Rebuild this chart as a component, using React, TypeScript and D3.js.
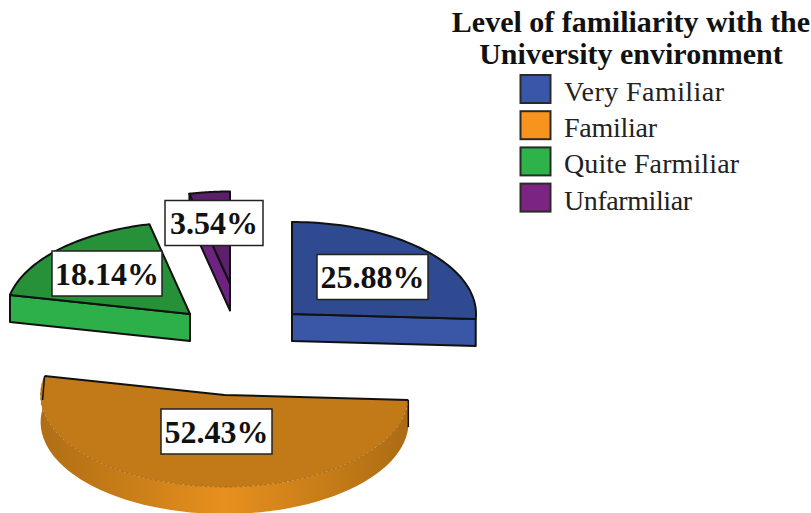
import React from "react";
import * as d3 from "d3";

const categories = ["Very Familiar", "Familiar", "Quite Farmiliar", "Unfarmiliar"];
const shares = [25.88, 52.43, 18.14, 3.54];
const titleLines = ["Level of familiarity with the", "University environment"];

const faceColors = ["#2f4a90", "#c27a18", "#27913a", "#5c1f6c"];
const wallColors = ["#3a56a6", "#e8901e", "#2db04a", "#6d2480"];
const swatchColors = ["#3a56a8", "#f7941d", "#2db34a", "#7b2481"];

// Where each exploded wedge keeps its apex, and where its label box is centred.
const apexX = [292, 224.6, 190, 230];
const apexY = [314, 395, 314, 283.5];
const labelX = [372.5, 216.5, 107, 214];
const labelY = [277, 431.5, 273.5, 223];
const labelW = [111, 111, 110, 98];
const labelH = 45;
const legendTextWidths = [160, 93, 175, 128];

const RX = 184;
const RY = 92;
const DEPTH = 27;

const pie = d3.pie<number>().sort(null).value((d) => d);
const arcs = pie(shares);

type P = [number, number];
const onRim = (i: number, a: number, drop = 0): P => [
  apexX[i] + RX * Math.sin(a),
  apexY[i] - RY * Math.cos(a) + drop,
];
const rimPoints = (i: number, a0: number, a1: number, drop = 0): P[] =>
  d3.range(0, 61).map((k) => onRim(i, a0 + ((a1 - a0) * k) / 60, drop));

const line = d3.line<P>();
const closed = (pts: P[]) => line(pts) + "Z";

function facePath(i: number) {
  const a = arcs[i];
  return closed([[apexX[i], apexY[i]], ...rimPoints(i, a.startAngle, a.endAngle)]);
}

// Radial cut wall of a wedge: the face edge at angle a, extruded downwards.
function cutWall(i: number, a: number) {
  const p = onRim(i, a);
  const c: P = [apexX[i], apexY[i]];
  return closed([c, p, [p[0], p[1] + DEPTH], [c[0], c[1] + DEPTH]]);
}

// Outer curved wall of the large wedge.
function rimWall(i: number) {
  const a = arcs[i];
  const top = rimPoints(i, a.startAngle, a.endAngle);
  const bottom = rimPoints(i, a.startAngle, a.endAngle, DEPTH).reverse();
  return closed([...top, ...bottom]);
}

const ink = "#111";

export default function App() {
  const orange = arcs[1];
  const backEdge: P[] = [
    onRim(1, orange.endAngle),
    [apexX[1], apexY[1]],
    onRim(1, orange.startAngle),
  ];
  const leftTop = onRim(1, orange.endAngle);
  const rightTop = onRim(1, orange.startAngle);
  const title = { fontFamily: "'Liberation Serif', serif", fontWeight: 700, fontSize: 30 };
  const legendFont = { fontFamily: "'Liberation Serif', serif", fontSize: 28 };

  return (
    <svg
      width={811}
      height={513}
      viewBox="0 0 811 513"
      style={{ position: "absolute", left: 0, top: 0, background: "#fff" }}
    >
      <defs>
        <linearGradient id="rimShade" x1="0" x2="1" y1="0" y2="0">
          <stop offset="0" stopColor="#b06e14" />
          <stop offset="0.25" stopColor="#c97e18" />
          <stop offset="0.5" stopColor="#e8901e" />
          <stop offset="0.75" stopColor="#c97e18" />
          <stop offset="1" stopColor="#ac6c14" />
        </linearGradient>
      </defs>

      {/* Very Familiar */}
      <path d={cutWall(0, arcs[0].endAngle)} fill={wallColors[0]} stroke={ink} strokeWidth={2} strokeLinejoin="round" />
      <path d={facePath(0)} fill={faceColors[0]} stroke={ink} strokeWidth={2} strokeLinejoin="round" />

      {/* Familiar: curved wall with a soft outline, dark edge only along the back */}
      <path d={rimWall(1)} fill="url(#rimShade)" />
      <path d={facePath(1)} fill={faceColors[1]} />
      <path
        d={line(rimPoints(1, orange.startAngle, orange.endAngle)) ?? ""}
        fill="none"
        stroke="#9a6516"
        strokeWidth={0.8}
        strokeDasharray="3 2"
      />
      <path d={line(backEdge) ?? ""} fill="none" stroke={ink} strokeWidth={2} />
      <path
        d={line([leftTop, [leftTop[0] - 2, leftTop[1] + DEPTH - 3]]) ?? ""}
        fill="none"
        stroke={ink}
        strokeWidth={1.5}
      />
      <path
        d={line([rightTop, [rightTop[0], rightTop[1] + DEPTH]]) ?? ""}
        fill="none"
        stroke={ink}
        strokeWidth={1.5}
      />

      {/* Quite Farmiliar */}
      <path d={cutWall(2, arcs[2].startAngle)} fill={wallColors[2]} stroke={ink} strokeWidth={2} strokeLinejoin="round" />
      <path d={facePath(2)} fill={faceColors[2]} stroke={ink} strokeWidth={2} strokeLinejoin="round" />

      {/* Unfarmiliar */}
      <path d={cutWall(3, arcs[3].startAngle)} fill={wallColors[3]} stroke={ink} strokeWidth={2} strokeLinejoin="round" />
      <path d={facePath(3)} fill={faceColors[3]} stroke={ink} strokeWidth={2} strokeLinejoin="round" />

      {/* Value labels */}
      {shares.map((s, i) => (
        <g key={categories[i]}>
          <rect
            x={labelX[i] - labelW[i] / 2}
            y={labelY[i] - labelH / 2}
            width={labelW[i]}
            height={labelH}
            fill="#fff"
            stroke="#222"
            strokeWidth={1.5}
          />
          <text
            x={labelX[i]}
            y={labelY[i] + 11}
            textAnchor="middle"
            fontFamily="'Liberation Serif', serif"
            fontWeight={700}
            fontSize={32}
            fill="#111"
          >
            {d3.format(".2f")(s)}%
          </text>
        </g>
      ))}

      {/* Legend */}
      {titleLines.map((t, i) => (
        <text key={t} x={631} y={32 + i * 32} textAnchor="middle" style={title} fill="#111">
          {t}
        </text>
      ))}
      {categories.map((c, i) => (
        <g key={c} transform={`translate(0, ${i * 36.2})`}>
          <rect x={520.5} y={75} width={30} height={28} fill={swatchColors[i]} stroke="#2a2a2a" strokeWidth={2} />
          <text x={564} y={101} style={legendFont} fill="#222" textLength={legendTextWidths[i]} lengthAdjust="spacing">
            {c}
          </text>
        </g>
      ))}
    </svg>
  );
}
